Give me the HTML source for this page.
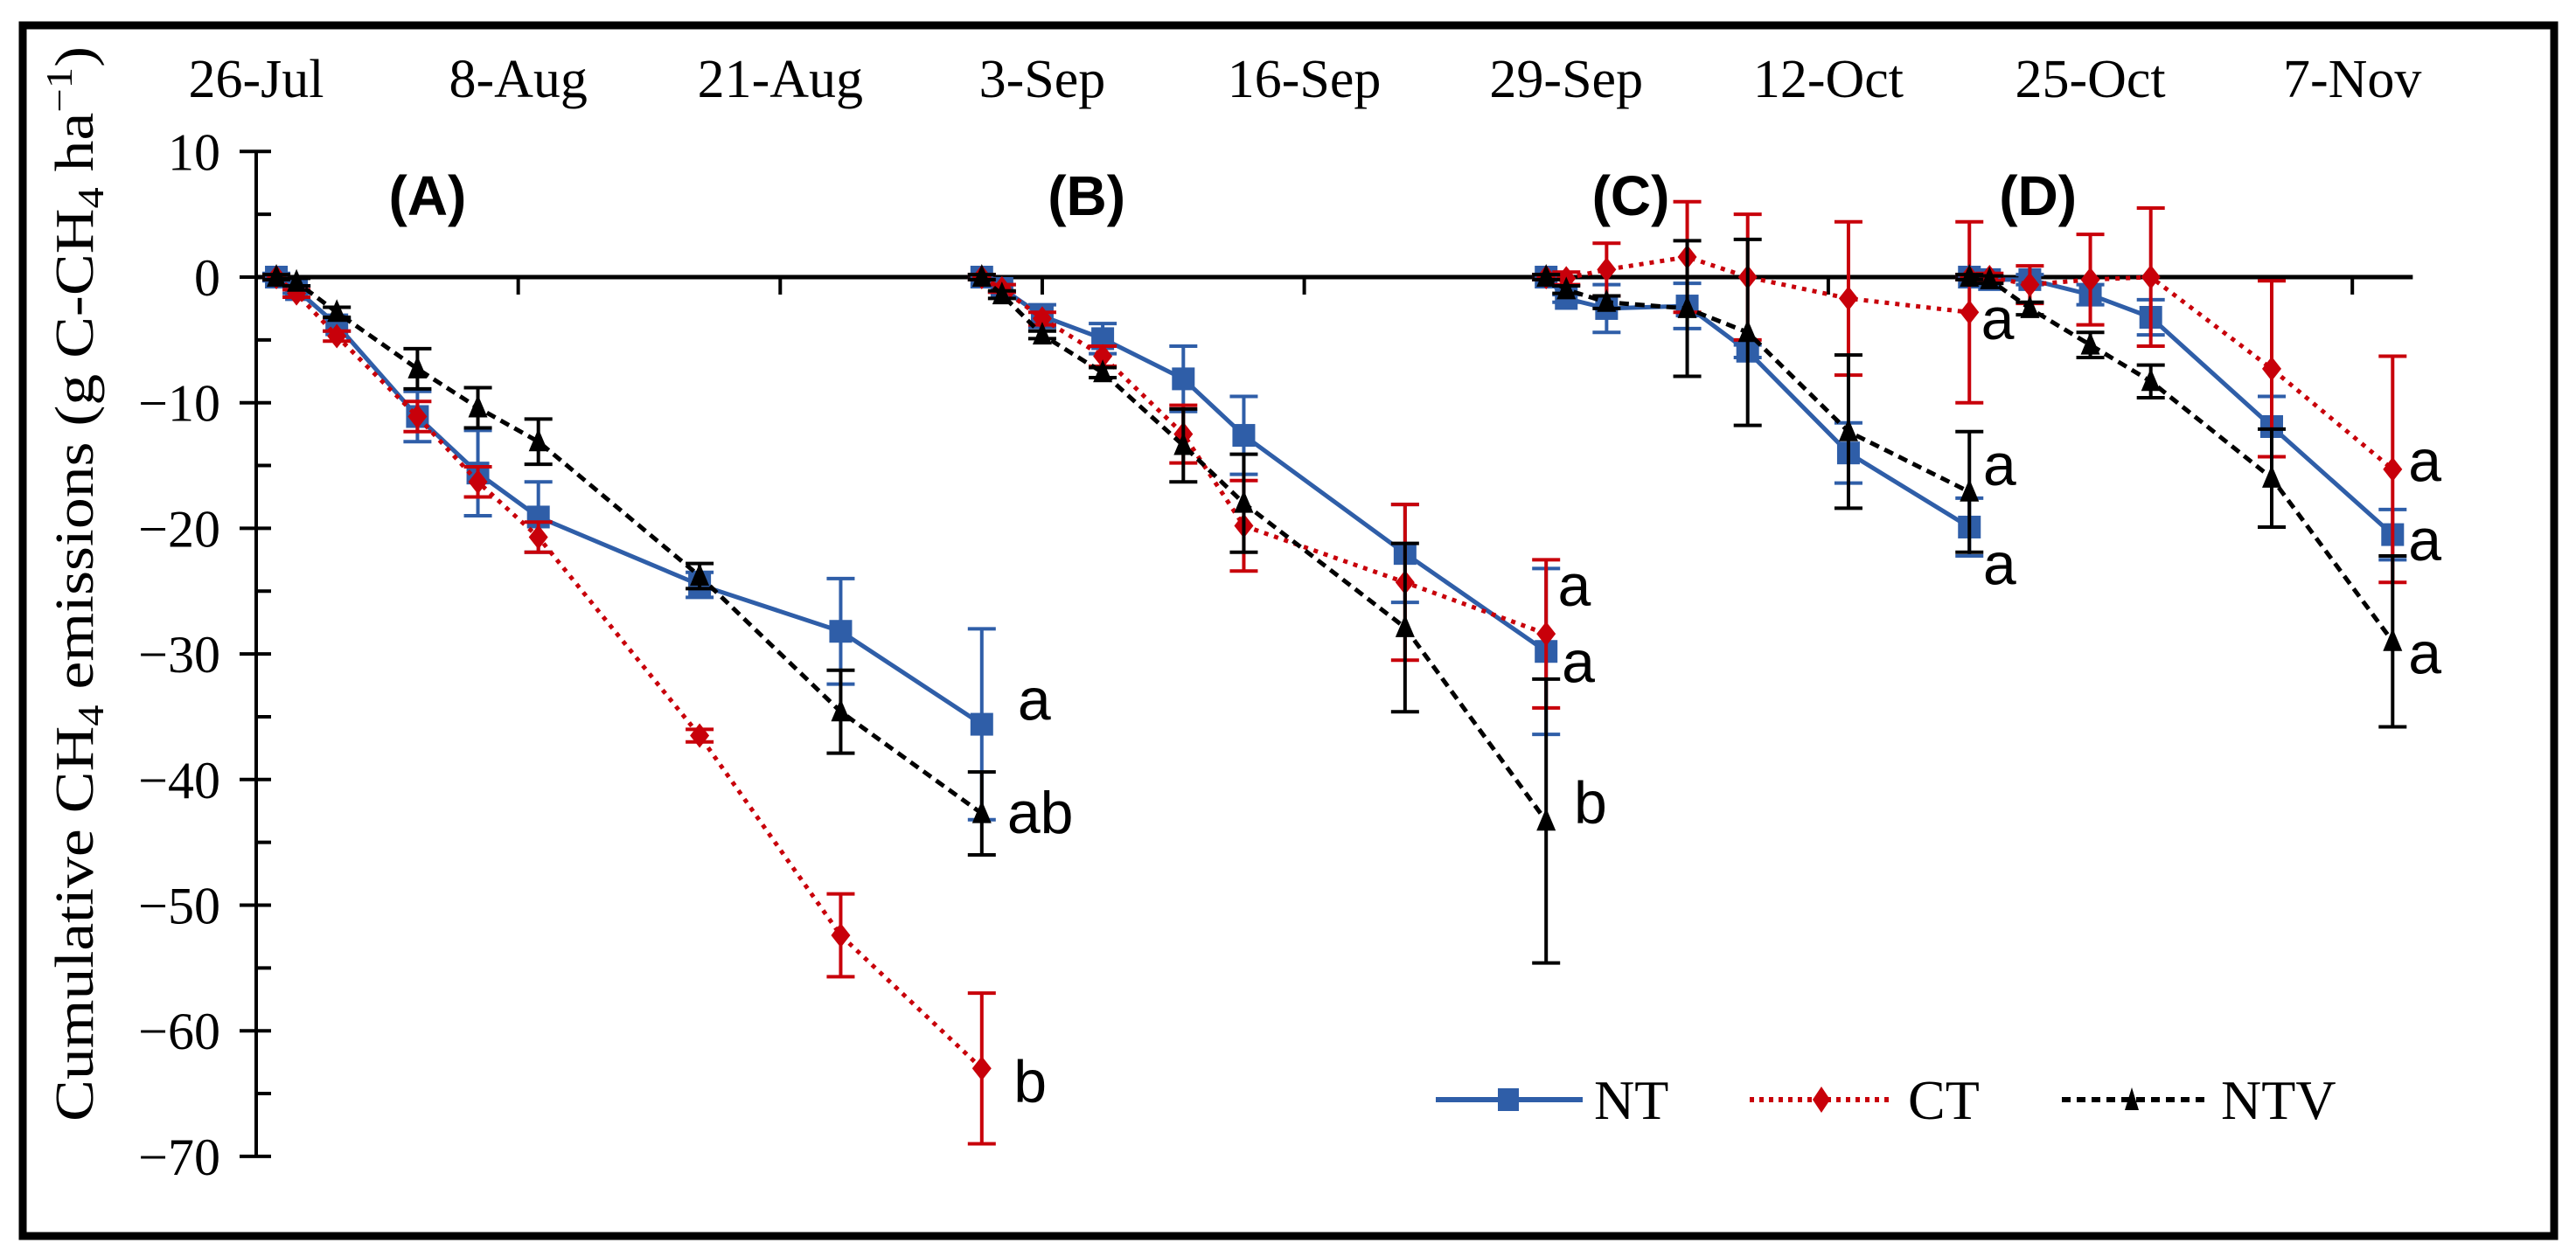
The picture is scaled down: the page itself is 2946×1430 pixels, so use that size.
<!DOCTYPE html>
<html><head><meta charset="utf-8"><style>
html,body{margin:0;padding:0;background:#fff;}
svg{display:block;}
</style></head><body>
<svg id="chart" width="2946" height="1430" viewBox="0 0 2946 1430" xmlns="http://www.w3.org/2000/svg">
<rect x="26" y="29" width="2895" height="1385" fill="none" stroke="#000" stroke-width="9"/>
<g id="axes"></g>
<g id="series"></g>
<g id="labels"></g>
<text transform="translate(106,668) rotate(-90)" text-anchor="middle" font-family="Liberation Serif, serif" font-size="62" textLength="1230" lengthAdjust="spacingAndGlyphs">Cumulative CH<tspan font-size="42" dy="12">4</tspan><tspan dy="-12"> emissions (g C-CH</tspan><tspan font-size="42" dy="12">4</tspan><tspan dy="-12"> ha</tspan><tspan font-size="42" dy="-24">−1</tspan><tspan dy="24">)</tspan></text>
<g font-family="Liberation Serif, serif" font-size="64">
  <g>
    <line x1="1642" y1="1258" x2="1810" y2="1258" stroke="#2f5ea8" stroke-width="6"/>
    <rect x="1713" y="1245" width="24" height="26" fill="#2f5ea8"/>
    <text x="1823" y="1280">NT</text>
  </g>
  <g>
    <line x1="2001" y1="1258" x2="2161" y2="1258" stroke="#c8000a" stroke-width="6" stroke-dasharray="5 6"/>
    <polygon points="2083,1243 2093,1258 2083,1273 2073,1258" fill="#c8000a"/>
    <text x="2182" y="1280">CT</text>
  </g>
  <g>
    <line x1="2358" y1="1258" x2="2522" y2="1258" stroke="#000" stroke-width="6" stroke-dasharray="10 7"/>
    <polygon points="2438,1244 2446,1270 2430,1270" fill="#000"/>
    <text x="2540" y="1280">NTV</text>
  </g>
</g>
</svg>
<script>
// ---- data ----
const dateLabels = ["26-Jul","8-Aug","21-Aug","3-Sep","16-Sep","29-Sep","12-Oct","25-Oct","7-Nov"];
const yTicks = [10,0,-10,-20,-30,-40,-50,-60,-70];
const panelNames = ["(A)","(B)","(C)","(D)"];
const panelLabelDays = [8.5,41.2,68.2,88.4];

const daysA = [1,2,4,8,11,14,22,29,36];
const ntA  = [0,-1.0,-3.8,-11.1,-15.6,-19.1,-24.5,-28.2,-35.6];
const ntAerr = [0.3,0.3,0.5,2.0,3.4,2.8,1.0,4.2,7.6];
const ctA  = [0,-1.3,-4.7,-11.1,-16.3,-20.7,-36.5,-52.4,-63.0];
const ctAerr = [0.2,0.3,0.4,1.2,1.2,1.2,0.5,3.3,6.0];
const ntvA = [0,-0.4,-2.8,-7.3,-10.4,-13.1,-23.8,-34.6,-42.7];
const ntvAerr = [0.2,0.3,0.4,1.6,1.6,1.8,1.0,3.3,3.3];

const daysB = [36,37,39,42,46,49,57,64];
const ntB  = [0,-0.9,-3.1,-4.9,-8.1,-12.6,-22.0,-29.8];
const ntBerr = [0.2,0.3,0.9,1.2,2.6,3.1,3.9,6.6];
const ctB  = [0,-0.9,-3.3,-6.3,-12.5,-19.8,-24.3,-28.4];
const ctBerr = [0.2,0.3,0.5,0.8,2.3,3.6,6.2,5.9];
const ntvB = [0,-1.4,-4.6,-7.6,-13.4,-18.0,-27.9,-43.3];
const ntvBerr = [0.2,0.3,0.3,0.4,2.9,3.9,6.7,11.3];

const daysC = [64,65,67,71,74,79,85];
const ntC  = [0,-1.7,-2.5,-2.3,-5.9,-14.0,-19.9];
const ntCerr = [0.2,0.3,1.9,1.8,0.5,2.4,2.3];
const ctC  = [0,-0.1,0.6,1.6,0.0,-1.7,-2.8];
const ctCerr = [0.2,0.5,2.1,4.4,5.0,6.1,7.2];
const ntvC = [0,-1.0,-2.0,-2.5,-4.4,-12.3,-17.1];
const ntvCerr = [0.2,0.3,0.5,5.4,7.4,6.1,4.8];

const daysD = [85,86,88,91,94,100,106];
const ntD  = [0,-0.2,-0.2,-1.4,-3.2,-11.9,-20.5];
const ntDerr = [0.2,0.3,0.4,0.8,1.4,2.4,2.0];
const ctD  = [0,0,-0.6,-0.2,0,-7.3,-15.3];
const ctDerr = [0.2,0.3,1.5,3.6,5.5,7.0,9.0];
const ntvD = [0,-0.2,-2.5,-5.4,-8.3,-16.0,-29.0];
const ntvDerr = [0.2,0.3,0.5,1.0,1.3,3.9,6.8];

const sigText = ["a","ab","b","a","a","b","a","a","a","a","a","a"];
const sigDays = [38.6,38.9,38.4,65.4,65.6,66.2,86.4,86.5,86.5,107.6,107.6,107.6];
const sigVals = [-34.0,-43.0,-64.4,-24.9,-31.0,-42.2,-3.7,-15.3,-23.2,-15.0,-21.3,-30.3];

// ---- scales ----
const X0 = 293, PXDAY = 23.05, Y0 = 317, PXUNIT = 14.37;
const xS = d => X0 + d * PXDAY;
const yS = v => Y0 - v * PXUNIT;
const NS = "http://www.w3.org/2000/svg";
function mk(tag, attrs, parent) {
  const e = document.createElementNS(NS, tag);
  for (const k in attrs) e.setAttribute(k, attrs[k]);
  parent.appendChild(e);
  return e;
}
const axes = document.getElementById("axes");
const series = document.getElementById("series");
const labels = document.getElementById("labels");

// y axis
const yAxis = mk("line", {x1: X0, y1: yS(10), x2: X0, y2: yS(-70), stroke: "#000", "stroke-width": 4}, axes);


for (let v = 10; v >= -70; v -= 5) {
  const major = v % 10 === 0;
  const t = mk("line", {x1: major ? X0 - 19 : X0, y1: yS(v), x2: X0 + 17, y2: yS(v), stroke: "#000", "stroke-width": 4}, axes);
  
  
}
yTicks.forEach(v => {
  const t = mk("text", {x: 252, y: yS(v) + 21, "text-anchor": "end", "font-family": "Liberation Serif, serif", "font-size": 60}, axes);
  t.textContent = v < 0 ? "−" + Math.abs(v) : String(v);
  
  
});
// zero line
const zl = mk("line", {x1: X0, y1: Y0, x2: xS(107), y2: Y0, stroke: "#000", "stroke-width": 5}, axes);


dateLabels.forEach((lab, i) => {
  const d = i * 13;
  if (i > 0) {
    const t = mk("line", {x1: xS(d), y1: Y0, x2: xS(d), y2: Y0 + 20, stroke: "#000", "stroke-width": 4}, axes);
    
    
  }
  const tx = mk("text", {x: xS(d), y: 111, "text-anchor": "middle", "font-family": "Liberation Serif, serif", "font-size": 62}, axes);
  tx.textContent = lab;
  
  
});
panelNames.forEach((p, i) => {
  const t = mk("text", {x: xS(panelLabelDays[i]), y: 246, "text-anchor": "middle", "font-family": "Liberation Sans, sans-serif", "font-size": 64, "font-weight": "bold"}, labels);
  t.textContent = p;
  
  
});

const styles = {
  NT: {color: "#2f5ea8", dash: null, marker: "square"},
  CT: {color: "#c8000a", dash: "5 7", marker: "diamond"},
  NTV: {color: "#000000", dash: "11 7", marker: "triangle"}
};
function drawSeries(name, days, vals, errs) {
  const st = styles[name];
  const g = mk("g", {}, series);
  
  
  // error bars
  days.forEach((d, i) => {
    const x = xS(d), y1 = yS(vals[i] + errs[i]), y2 = yS(vals[i] - errs[i]);
    const eb = mk("path", {d: `M${x},${y1}V${y2}M${x-16},${y1}H${x+16}M${x-16},${y2}H${x+16}`, stroke: st.color, "stroke-width": 4, fill: "none"}, g);
    
    
  });
  const pts = days.map((d, i) => xS(d) + "," + yS(vals[i])).join(" ");
  const pl = mk("polyline", {points: pts, fill: "none", stroke: st.color, "stroke-width": 5}, g);
  if (st.dash) pl.setAttribute("stroke-dasharray", st.dash);
  
  
  days.forEach((d, i) => {
    const x = xS(d), y = yS(vals[i]);
    let m;
    if (st.marker === "square") m = mk("rect", {x: x - 13, y: y - 13, width: 26, height: 26, fill: st.color}, g);
    else if (st.marker === "diamond") m = mk("polygon", {points: `${x},${y-14} ${x+11},${y} ${x},${y+14} ${x-11},${y}`, fill: st.color}, g);
    else m = mk("polygon", {points: `${x},${y-15} ${x+11},${y+11} ${x-11},${y+11}`, fill: st.color}, g);
    
    
  });
}
[[daysA, ntA, ntAerr, ctA, ctAerr, ntvA, ntvAerr],
 [daysB, ntB, ntBerr, ctB, ctBerr, ntvB, ntvBerr],
 [daysC, ntC, ntCerr, ctC, ctCerr, ntvC, ntvCerr],
 [daysD, ntD, ntDerr, ctD, ctDerr, ntvD, ntvDerr]].forEach(p => {
  drawSeries("NT", p[0], p[1], p[2]);
  drawSeries("CT", p[0], p[3], p[4]);
  drawSeries("NTV", p[0], p[5], p[6]);
});
sigText.forEach((s, i) => {
  const t = mk("text", {x: xS(sigDays[i]), y: yS(sigVals[i]) + 18, "text-anchor": "middle", "font-family": "Liberation Sans, sans-serif", "font-size": 68}, labels);
  t.textContent = s;
  
  
});
</script>
</body></html>
